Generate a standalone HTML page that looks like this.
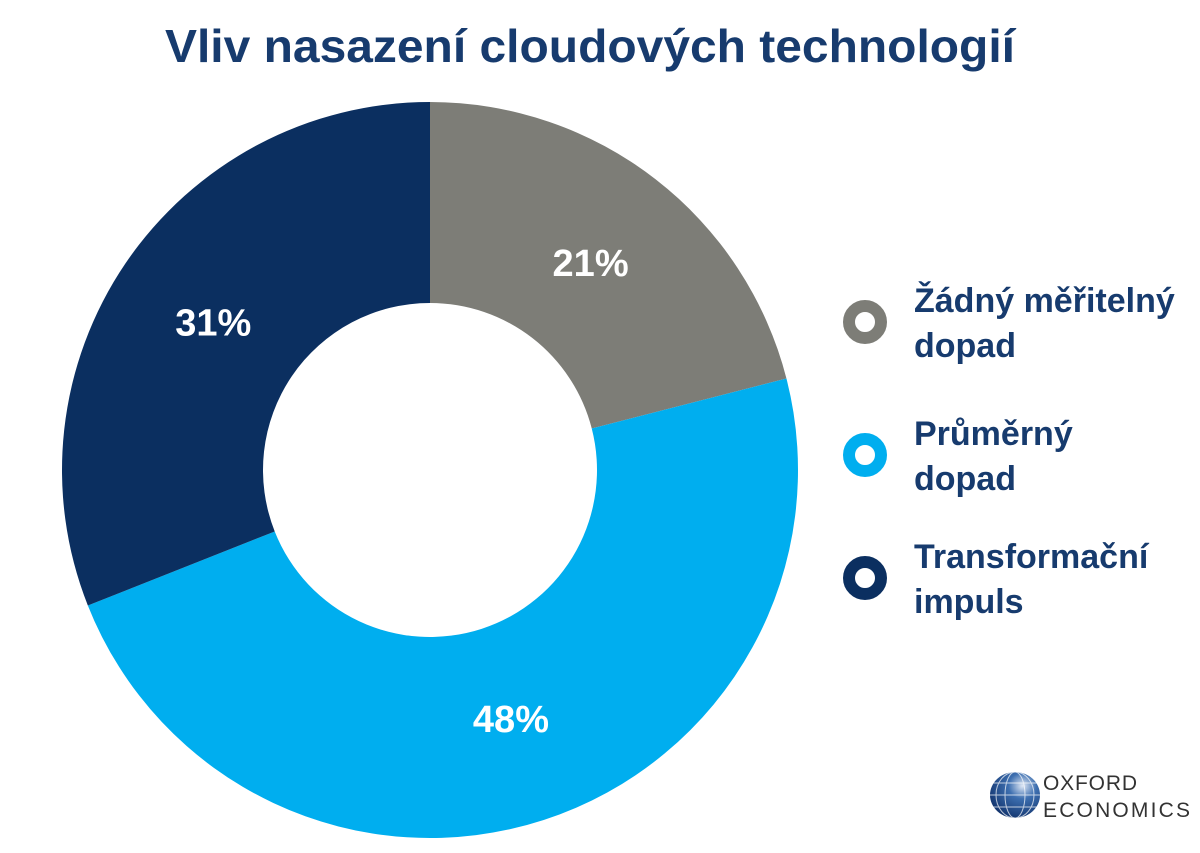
<!DOCTYPE html>
<html><head><meta charset="utf-8"><style>
body{margin:0;background:#fff;width:1200px;height:853px;overflow:hidden;font-family:"Liberation Sans",sans-serif}
svg{display:block}
</style></head><body>
<svg width="1200" height="853">
<text x="590" y="62" text-anchor="middle" font-size="46" font-weight="bold" fill="#173b6e" textLength="850" lengthAdjust="spacingAndGlyphs">Vliv nasazení cloudových technologií</text>
<g id="slices"></g>
<g id="legend"></g>
<g>
<defs><radialGradient id="gl" cx="0.65" cy="0.3" r="0.8"><stop offset="0" stop-color="#dfe8f5"/><stop offset="0.35" stop-color="#3d6fb0"/><stop offset="1" stop-color="#0d2d66"/></radialGradient></defs>
<ellipse cx="1015" cy="795" rx="25" ry="23" fill="url(#gl)"/>
<g stroke="#fff" stroke-width="1" fill="none" opacity="0.7">
<ellipse cx="1015" cy="795" rx="10" ry="23"/><ellipse cx="1015" cy="795" rx="19" ry="23"/>
<line x1="990" y1="795" x2="1040" y2="795"/><line x1="993" y1="783" x2="1037" y2="783"/><line x1="993" y1="807" x2="1037" y2="807"/>
</g>
<text x="1043" y="790" font-size="21" fill="#333" textLength="94" lengthAdjust="spacing">OXFORD</text>
<text x="1043" y="817" font-size="21" fill="#333" textLength="147" lengthAdjust="spacing">ECONOMICS</text>
</g>
</svg>
<script>
const categories=["Žádný měřitelný dopad","Průměrný dopad","Transformační impuls"];
const values=[21,48,31];
const labels=["21%","48%","31%"];
const colors=["#7d7d77","#00aeef","#0b2f60"];
const cx=430,cy=470,R=368,r=167;
const ns="http://www.w3.org/2000/svg";
const g=document.getElementById('slices');
const total=values.reduce((a,b)=>a+b,0);
function pt(a,rad){return [cx+rad*Math.sin(a),cy-rad*Math.cos(a)];}
let acc=0;
values.forEach((v,i)=>{
 const a0=acc/total*2*Math.PI; acc+=v; const a1=acc/total*2*Math.PI;
 const large=(a1-a0)>Math.PI?1:0;
 const [x0,y0]=pt(a0,R),[x1,y1]=pt(a1,R),[x2,y2]=pt(a1,r),[x3,y3]=pt(a0,r);
 const p=document.createElementNS(ns,'path');
 p.setAttribute('d',`M${x0},${y0}A${R},${R} 0 ${large} 1 ${x1},${y1}L${x2},${y2}A${r},${r} 0 ${large} 0 ${x3},${y3}Z`);
 p.setAttribute('fill',colors[i]);
 
 
 g.appendChild(p);
 const am=(a0+a1)/2; const [lx,ly]=pt(am,262);
 const t=document.createElementNS(ns,'text');
 t.setAttribute('x',lx);t.setAttribute('y',ly+13);t.setAttribute('text-anchor','middle');
 t.setAttribute('font-size','38');t.setAttribute('font-weight','bold');t.setAttribute('fill','#fff');
 
 
 t.textContent=labels[i];g.appendChild(t);
});
const lg=document.getElementById('legend');
const ly0=[322,455,578];
categories.forEach((c,i)=>{
 const e=document.createElementNS(ns,'g');
 
 
 const ci=document.createElementNS(ns,'circle');
 ci.setAttribute('cx',865);ci.setAttribute('cy',ly0[i]);ci.setAttribute('r',16);
 ci.setAttribute('fill','none');ci.setAttribute('stroke',colors[i]);ci.setAttribute('stroke-width',12);
 e.appendChild(ci);
 const words=c.split(' ');const l1=words.slice(0,words.length-1).join(' '),l2=words[words.length-1];
 [l1,l2].forEach((s,k)=>{
  const t=document.createElementNS(ns,'text');
  t.setAttribute('x',914);t.setAttribute('y',ly0[i]-10+k*45);
  t.setAttribute('font-size','34');t.setAttribute('font-weight','bold');t.setAttribute('fill','#173b6e');
  t.textContent=s;e.appendChild(t);
 });
 lg.appendChild(e);
});
</script>
</body></html>
